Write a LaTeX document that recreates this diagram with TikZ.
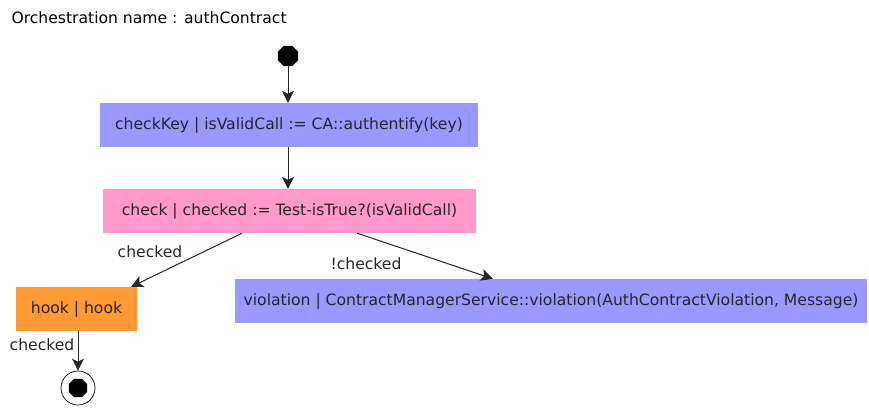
\documentclass[tikz,border=0pt]{standalone}
\usepackage{fontspec}
\setmainfont{DejaVu Sans}
\usetikzlibrary{arrows.meta,shapes.geometric,calc}
\definecolor{actblue}{HTML}{9999FF}
\definecolor{actpink}{HTML}{FF99CC}
\definecolor{actorange}{HTML}{FF9933}
\begin{document}
\begin{tikzpicture}[x=1pt,y=-1pt,
  activity/.style={rectangle,draw=none,minimum height=44pt,inner sep=0pt,
    font=\fontsize{15.6}{17}\selectfont,text=black!85},
  flow/.style={draw=black!85,line width=1pt,-{Stealth[length=12pt,width=12pt,inset=3pt]}},
  guard/.style={font=\fontsize{15.6}{17}\selectfont,text=black!85},
  startdot/.style={regular polygon,regular polygon sides=8,fill=black,minimum size=22pt,inner sep=0pt},
  enddot/.style={circle,draw=black,line width=0.7pt,minimum size=34pt,inner sep=0pt}]
\useasboundingbox (0,0) rectangle (869,407);
\fill[white] (0,0) rectangle (869,407);

\node[anchor=west,font=\fontsize{15.6}{17}\selectfont] (title) at (8,18) {Orchestration name : authContract};

\node[startdot] (start) at (288,56) {};
\node[activity,fill=actblue,minimum width=378pt] (checkKey) at (289,125) {checkKey | isValidCall := CA::authentify(key)};
\node[activity,fill=actpink,minimum width=373pt] (check) at (289.5,211) {check | checked := Test-isTrue?(isValidCall)};
\node[activity,fill=actorange,minimum width=121pt] (hook) at (76.5,309) {hook | hook};
\node[activity,fill=actblue,minimum width=632pt] (violation) at (551,301) {violation | ContractManagerService::violation(AuthContractViolation, Message)};
\node[enddot] (final) at (78,388) {};
\node[startdot,minimum size=20pt] (finaldot) at (final.center) {};

\draw[flow] (start) -- (start |- checkKey.north);
\draw[flow] (checkKey.south -| start) -- (check.north -| start);
\coordinate (c1) at ($(check.south west)!0.373!(check.south east)$);
\coordinate (c2) at ($(check.south west)!0.681!(check.south east)$);
\coordinate (h1) at ($(hook.north west)!0.95!(hook.north east)$);
\coordinate (v1) at ($(violation.north west)!0.408!(violation.north east)$);
\draw[flow] (c1) -- (h1);
\draw[flow] (c2) -- (v1);
\draw[flow] (hook.south -| final) -- (final.north);

\node[guard] (g1) at (150,252) {checked};
\node[guard] (g2) at (366,264) {!checked};
\node[guard] (g3) at (42,345) {checked};
\end{tikzpicture}
\end{document}
